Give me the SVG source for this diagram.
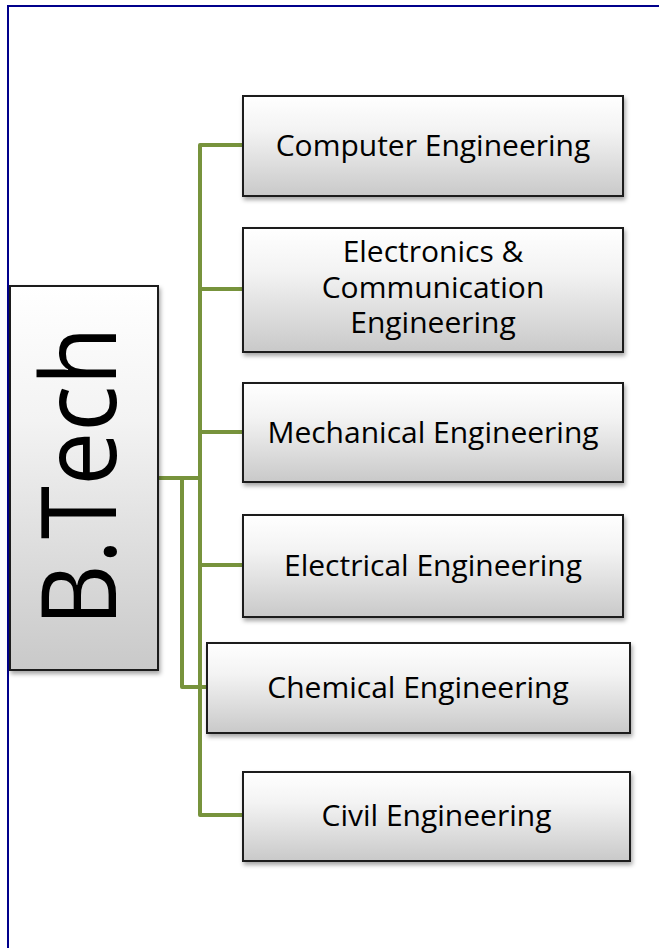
<svg xmlns="http://www.w3.org/2000/svg" width="659" height="948" viewBox="0 0 659 948">
<defs>
<linearGradient id="g" x1="0" y1="0" x2="0" y2="1">
<stop offset="0" stop-color="#ffffff"/>
<stop offset="0.35" stop-color="#f3f3f3"/>
<stop offset="1" stop-color="#c9c9c9"/>
</linearGradient>
<filter id="sh" x="-10%" y="-10%" width="125%" height="130%">
<feDropShadow dx="1.5" dy="3" stdDeviation="2.2" flood-color="#000" flood-opacity="0.35"/>
</filter>
<style>
.box{fill:url(#g);stroke:#1a1a1a;stroke-width:2;filter:url(#sh)}
.t{font-family:"Open Sans","Noto Sans",sans-serif;font-size:30px;fill:#000;text-anchor:middle}
.c{fill:none;stroke:#77933C;stroke-width:4;stroke-linejoin:round}
</style>
</defs>
<rect width="659" height="948" fill="#fff"/>
<path d="M8,948 V6 H659" fill="none" stroke="#00008B" stroke-width="2"/>
<g id="connectors">
<path class="c" d="M158,478 H200 V145 H243"/>
<path class="c" d="M200,289 H243"/>
<path class="c" d="M200,432 H243"/>
<path class="c" d="M200,565 H243"/>
<path class="c" d="M200,478 V815 H243"/>
<path class="c" d="M182,478 V687 H207"/>
</g>
<g id="btech">
<rect class="box" x="10" y="286" width="148" height="384"/>
<text transform="translate(116,476.5) rotate(-90)" x="0" y="0" font-family="Open Sans, Noto Sans, sans-serif" font-size="104" text-anchor="middle" textLength="300" lengthAdjust="spacingAndGlyphs">B.Tech</text>
</g>
<g id="computer">
<rect class="box" x="243" y="96" width="380" height="100"/>
<text class="t" x="433" y="156">Computer Engineering</text>
</g>
<g id="electronics">
<rect class="box" x="243" y="228" width="380" height="124"/>
<text class="t"><tspan x="433" y="262">Electronics &amp;</tspan><tspan x="433" y="298">Communication</tspan><tspan x="433" y="333">Engineering</tspan></text>
</g>
<g id="mechanical">
<rect class="box" x="243" y="383" width="380" height="99"/>
<text class="t" x="433" y="443">Mechanical Engineering</text>
</g>
<g id="electrical">
<rect class="box" x="243" y="515" width="380" height="102"/>
<text class="t" x="433" y="576">Electrical Engineering</text>
</g>
<g id="chemical">
<rect class="box" x="207" y="643" width="423" height="90"/>
<text class="t" x="418" y="698">Chemical Engineering</text>
</g>
<g id="civil">
<rect class="box" x="243" y="772" width="387" height="89"/>
<text class="t" x="436.5" y="826">Civil Engineering</text>
</g>
</svg>
